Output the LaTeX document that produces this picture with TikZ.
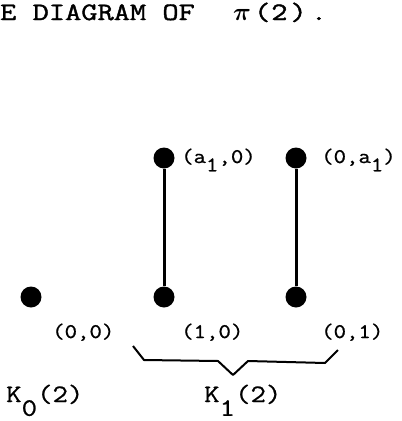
\documentclass[tikz,border=0pt]{standalone}
\usepackage{bm}
\usepackage{fontspec}
\newfontfamily\ttlfont{Latin Modern Mono}[FakeStretch=1.26,FakeBold=1.6]
\newfontfamily\kfont{Latin Modern Mono}[FakeStretch=1.2,FakeBold=0.9]
\newfontfamily\lblfont{Latin Modern Mono}[FakeStretch=1.16,FakeBold=0.8]
\newcommand{\lowr}[1]{\raisebox{-0.4em}{#1}}
\newcommand{\lowk}[1]{\raisebox{-0.55em}{#1}}
\begin{document}
\begin{tikzpicture}[x=1pt,y=-1pt,
  dot/.style={circle,fill=black,inner sep=0pt,minimum size=21pt},
  edge/.style={line width=3pt},
  lbl/.style={inner sep=0pt,anchor=base west,font=\lblfont\fontsize{20.8}{24}\selectfont},
  klbl/.style={inner sep=0pt,anchor=base west,font=\kfont\fontsize{25}{30}\selectfont},
  ttl/.style={inner sep=0pt,anchor=base west,font=\ttlfont\fontsize{25}{30}\selectfont},
  brace/.style={line width=2pt,line join=round}]
\useasboundingbox (0,0) rectangle (402,421);
\node[ttl] (title) at (0,20) {E DIAGRAM OF};
\node[ttl] (titlepi) at (233,20) {$\bm{\pi}$\kern3pt(\kern1pt2\kern3pt)\kern4pt.};
\node[dot] (n00) at (31,297) {};
\node[dot] (n10) at (164,297) {};
\node[dot] (n01) at (296,297) {};
\node[dot] (na0) at (164,158) {};
\node[dot] (n0a) at (296,158) {};
\draw[edge] (na0) -- (n10);
\draw[edge] (n0a) -- (n01);
\node[lbl] (la0) at (181,163) {(a\lowr{1},0)};
\node[lbl] (l0a) at (321,163) {(0,a\lowr{1})};
\node[lbl] (l00) at (52,338) {(0,0)};
\node[lbl] (l10) at (181,338) {(1,0)};
\node[lbl] (l01) at (321,338) {(0,1)};
\coordinate (b1) at (133,346);
\coordinate (b2) at (144,360);
\coordinate (b3) at (218,361);
\coordinate (b4) at (233,375);
\coordinate (b5) at (248,361);
\coordinate (b6) at (325,363);
\coordinate (b7) at (338,350);
\draw[brace] (b1) -- (b2) -- (b3) -- (b4) -- (b5) -- (b6) -- (b7);
\node[klbl] (k0) at (6,402) {K\lowk{0}(2)};
\node[klbl] (k1) at (204,402) {K\lowk{1}(2)};
\end{tikzpicture}
\end{document}
